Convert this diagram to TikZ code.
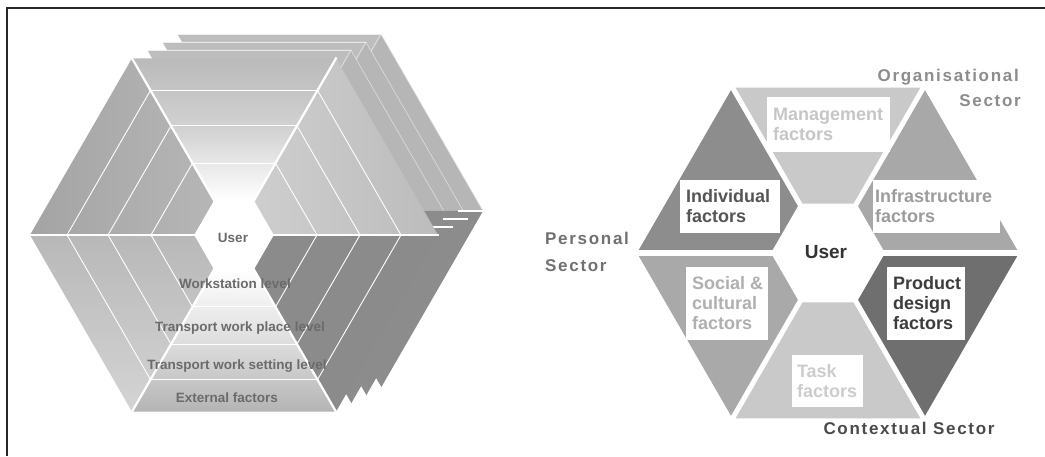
\documentclass[tikz,border=0pt]{standalone}
\usepackage{fontspec}
\setmainfont{Liberation Sans}
\newfontfamily\spacedfont{Liberation Sans}[LetterSpace=10]
\usetikzlibrary{calc}

\definecolor{backTop}{HTML}{BDBDBD}
\definecolor{backUR}{HTML}{B6B6B6}
\definecolor{backLR}{HTML}{8C8C8C}
\definecolor{fTopA}{HTML}{BABABA}
\definecolor{fTopB}{HTML}{D2D2D2}
\definecolor{fULA}{HTML}{A4A4A4}
\definecolor{fULB}{HTML}{B6B6B6}
\definecolor{fLLA}{HTML}{B8B8B8}
\definecolor{fLLB}{HTML}{D4D4D4}
\definecolor{fBotA}{HTML}{B4B4B4}
\definecolor{fBotB}{HTML}{DEDEDE}
\definecolor{fLR}{HTML}{8B8B8B}
\definecolor{fURA}{HTML}{CECECE}
\definecolor{fURB}{HTML}{BCBCBC}
\definecolor{ltxtc}{HTML}{6B6B6B}
\definecolor{cMg}{HTML}{C9C9C9}
\definecolor{cIn}{HTML}{8D8D8D}
\definecolor{cSo}{HTML}{A9A9A9}
\definecolor{cTa}{HTML}{C9C9C9}
\definecolor{cPr}{HTML}{6F6F6F}
\definecolor{cIf}{HTML}{A8A8A8}
\definecolor{tMg}{HTML}{C6C6C6}
\definecolor{tIn}{HTML}{555555}
\definecolor{tIf}{HTML}{9C9C9C}
\definecolor{tSo}{HTML}{B0B0B0}
\definecolor{tPr}{HTML}{3C3C3C}
\definecolor{tTa}{HTML}{CCCCCC}
\definecolor{tOrg}{HTML}{8C8C8C}
\definecolor{tPer}{HTML}{707070}
\definecolor{tCon}{HTML}{4A4A4A}
\definecolor{tUser}{HTML}{333333}

\tikzset{
  ltxt/.style={font=\fontsize{13.5}{15}\selectfont\bfseries, text=ltxtc, inner sep=0pt, text height=9.7pt, text depth=0pt},
  lbox/.style={fill=white, inner sep=0pt, draw=none},
  btxt/.style={font=\fontsize{18}{20}\selectfont\bfseries, align=left, inner sep=0pt, anchor=west},
  sectxt/.style={font=\fontsize{17}{20}\selectfont\spacedfont\bfseries, inner sep=0pt, text height=12.2pt, text depth=0pt},
  bandline/.style={white, line width=0.9pt},
  spoke/.style={white, line width=2.2pt},
  backlayer/.style={draw=white, line width=0.8pt},
  softlayer/.style={draw=white!55!backUR, line width=0.6pt},
  whitebar/.style={white, line width=1.6pt}
}

\begin{document}
\begin{tikzpicture}[x=1pt,y=1pt]
\useasboundingbox (0,0) rectangle (1045,456);
\fill[white] (0,0) rectangle (1045,456);
\draw[line width=1.2pt, black!85] (7,0) -- (7,448) -- (1045,448);

% ---------------- LEFT FIGURE ----------------
\begin{scope}[shift={(234,221)}]
  % stacked back layers
  \foreach \k in {3,2,1}{
    \begin{scope}[shift={(15*\k,8*\k)}]
      \filldraw[backlayer, fill=backTop] (60:40) -- (60:204) -- (120:204) -- (120:40) -- cycle;
    \end{scope}}
  \foreach \k in {3,2,1}{
    \begin{scope}[shift={(15*\k,8*\k)}]
      \filldraw[softlayer, fill=backUR] (0:40) -- (0:204) -- (60:204) -- (60:40) -- cycle;
    \end{scope}}
  \foreach \k in {3,2,1}{
    \begin{scope}[shift={(15*\k,8*\k)}]
      \fill[backLR] (300:40) -- (300:204) -- (360:204) -- (360:40) -- cycle;
      \draw[whitebar] (0:204) -- ++(-25,0);
      \draw[white, line width=1pt] (300:204) -- (300:192);
    \end{scope}}
  % front face
  \shade[top color=fTopA, bottom color=white, middle color=fTopB] (60:40) -- (60:204) -- (120:204) -- (120:40) -- cycle;
  \shade[left color=fULA, right color=fULB] (120:40) -- (120:204) -- (180:204) -- (180:40) -- cycle;
  \shade[top color=fLLA, bottom color=fLLB] (180:40) -- (180:204) -- (240:204) -- (240:40) -- cycle;
  \shade[top color=white, bottom color=fBotA, middle color=fBotB] (240:40) -- (240:204) -- (300:204) -- (300:40) -- cycle;
  \fill[fLR] (300:40) -- (300:204) -- (360:204) -- (360:40) -- cycle;
  \shade[left color=fURA, right color=fURB] (0:40) -- (0:204) -- (60:204) -- (60:40) -- cycle;
  % band boundaries and sector spokes
  \foreach \a in {0,60,...,300}{
    \foreach \r in {83,126,167}{
      \draw[bandline] (\a:\r) -- ({\a+60}:\r);
    }
    \draw[spoke] (\a:36) -- (\a:205);
  }
  % central hole
  \fill[white] (0:38) -- (60:38) -- (120:38) -- (180:38) -- (240:38) -- (300:38) -- cycle;
\end{scope}

\node[ltxt] (userL) at (233,218) {User};
\node[ltxt] (ws) at (235,172) {Workstation level};
\node[ltxt] (twp) at (240,129) {Transport work place level};
\node[ltxt] (tws) at (237,91) {Transport work setting level};
\node[ltxt] (ext) at (227,58) {External factors};

% ---------------- RIGHT FIGURE ----------------
\begin{scope}[shift={(828,203)}]
  \fill[cMg] (0,0) -- (60:191) -- (120:191) -- cycle;
  \fill[cIn] (0,0) -- (120:191) -- (180:191) -- cycle;
  \fill[cSo] (0,0) -- (180:191) -- (240:191) -- cycle;
  \fill[cTa] (0,0) -- (240:191) -- (300:191) -- cycle;
  \fill[cPr] (0,0) -- (300:191) -- (360:191) -- cycle;
  \fill[cIf] (0,0) -- (0:191) -- (60:191) -- cycle;
  \foreach \a in {0,60,...,300}{
    \draw[white, line width=5pt] (0,0) -- (\a:196);
  }
  \fill[white] (0:57) -- (60:57) -- (120:57) -- (180:57) -- (240:57) -- (300:57) -- cycle;
\end{scope}

% label boxes
\node[lbox, minimum width=123, minimum height=55] (mgbox) at (828.5,331.5) {};
\node[lbox, minimum width=100, minimum height=53] (inbox) at (730,249.5) {};
\node[lbox, minimum width=127, minimum height=53] (ifbox) at (936.5,249.5) {};
\node[lbox, minimum width=82, minimum height=73] (sobox) at (727,152.5) {};
\node[lbox, minimum width=78, minimum height=73] (prbox) at (926,152.5) {};
\node[lbox, minimum width=71, minimum height=52] (tabox) at (827.5,75) {};

\node[btxt, text=tMg] (mgtxt) at ($(mgbox.west)+(6,0)$) {Management\\factors};
\node[btxt, text=tIn] (intxt) at ($(inbox.west)+(6,0)$) {Individual\\factors};
\node[btxt, text=tIf] (iftxt) at ($(ifbox.west)+(2,0)$) {Infrastructure\\factors};
\node[btxt, text=tSo] (sotxt) at ($(sobox.west)+(6,0)$) {Social \&\\cultural\\factors};
\node[btxt, text=tPr] (prtxt) at ($(prbox.west)+(6,0)$) {Product\\design\\factors};
\node[btxt, text=tTa] (tatxt) at ($(tabox.west)+(5,0)$) {Task\\factors};

\node[font=\fontsize{19}{22}\selectfont\bfseries, text=tUser, inner sep=0pt, text height=13.6pt, text depth=0pt] (userR) at (826,204) {User};

% sector labels
\node[sectxt, text=tOrg, anchor=east] (org) at (1019,381) {Organisational};
\node[sectxt, text=tOrg, anchor=east] (orgsec) at (1021,356) {Sector};
\node[sectxt, text=tPer, anchor=west] (per) at (545,218) {Personal};
\node[sectxt, text=tPer, anchor=west] (persec) at (545,191) {Sector};
\node[sectxt, text=tCon] (con) at (909,28) {Contextual Sector};
\end{tikzpicture}
\end{document}
